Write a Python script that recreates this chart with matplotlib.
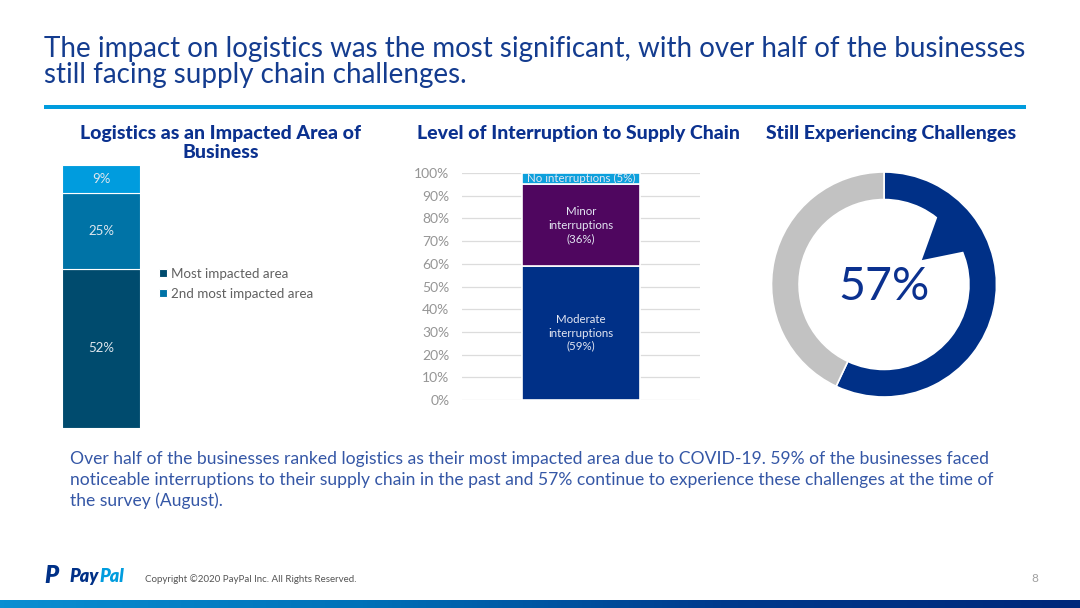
import matplotlib
matplotlib.use('Agg')
import matplotlib.pyplot as plt
import numpy as np
from matplotlib.patches import Polygon
from matplotlib.colors import LinearSegmentedColormap

# ---------------- data ----------------
left_series = ['Most impacted area', '2nd most impacted area', '3rd most impacted area']
left_values = [52, 25, 9]
left_bar_labels = ['52%', '25%', '9%']

mid_series = ['Moderate interruptions', 'Minor interruptions', 'No interruptions']
mid_values = [59, 36, 5]
mid_bar_labels = ['Moderate\ninterruptions\n(59%)', 'Minor\ninterruptions\n(36%)', 'No interruptions (5%)']
mid_ticks = [0, 10, 20, 30, 40, 50, 60, 70, 80, 90, 100]
mid_tick_labels = ['0%', '10%', '20%', '30%', '40%', '50%', '60%', '70%', '80%', '90%', '100%']

donut_values = [57, 43]
donut_label = '57%'

title_lines = ["The impact on logistics was the most significant, with over half of the businesses",
               "still facing supply chain challenges."]
left_title_lines = ["Logistics as an Impacted Area of", "Business"]
mid_title = "Level of Interruption to Supply Chain"
right_title = "Still Experiencing Challenges"
body_lines = ["Over half of the businesses ranked logistics as their most impacted area due to COVID-19. 59% of the businesses faced",
              "noticeable interruptions to their supply chain in the past and 57% continue to experience these challenges at the time of",
              "the survey (August)."]
footer_text = "Copyright \u00a92020 PayPal Inc. All Rights Reserved."
page_no = "8"

# ---------------- style ----------------
W, H = 1080, 608
NAVY = '#0b318f'
TITLE_BLUE = '#143c8f'
BODY_BLUE = '#3557a6'
LIGHT_BLUE = '#009cde'
left_colors = ['#004b6e', '#0073a6', '#009cde']
mid_colors = ['#003087', '#4f065f', '#0da0dc']
donut_colors = ['#003087', '#c2c2c2']

plt.rcParams['font.family'] = ['Lato', 'DejaVu Sans']

fig = plt.figure(figsize=(W / 100, H / 100), dpi=100)
fig.patch.set_facecolor('white')


def ax_px(x0, y0, x1, y1):
    return fig.add_axes([x0 / W, 1 - y1 / H, (x1 - x0) / W, (y1 - y0) / H])


def txt(x, y, s, **kw):
    return fig.text(x / W, 1 - y / H, s, **kw)


# title (one text per line, baselines)
for line, yb in zip(title_lines, [57, 83]):
    txt(44, yb, line, fontsize=20, color=TITLE_BLUE, ha='left', va='baseline')
# rule under the title
rule = ax_px(44, 105, 1026, 109)
rule.axis('off')
rule.add_patch(plt.Rectangle((0, 0), 1, 1, color=LIGHT_BLUE, transform=rule.transAxes))

# subtitles
sub_kw = dict(fontsize=14, fontweight='black', color=NAVY, ha='center', va='baseline')
for line, yb in zip(left_title_lines, [139, 158]):
    txt(221, yb, line, **sub_kw)
txt(578, 139, mid_title, **sub_kw)
txt(891, 139, right_title, **sub_kw)

# ---------------- left chart ----------------
axl = ax_px(62, 165, 140, 428)
bottom = 0
handles = []
for v, c, lab, name in zip(left_values, left_colors, left_bar_labels, left_series):
    b = axl.bar(0, v, bottom=bottom, width=1.0, color=c, edgecolor='white', linewidth=0.8,
                label=name)
    handles.append(b)
    axl.text(0, bottom + v / 2, lab, ha='center', va='center', fontsize=9.5, color='#dfe7ee')
    bottom += v
axl.set_xlim(-0.5, 0.5)
axl.set_ylim(0, sum(left_values))
axl.axis('off')
leg = fig.legend(handles=handles[:2], labels=left_series[:2], loc='upper left',
                 bbox_to_anchor=(152 / W, 1 - 261 / H), frameon=False, fontsize=9.6,
                 handlelength=0.6, handleheight=0.6, handletextpad=0.35, labelspacing=0.6,
                 borderpad=0, labelcolor='#606060')

# ---------------- middle chart ----------------
axm = ax_px(462, 173, 700, 400)
bottom = 0
for v, c, lab in zip(mid_values, mid_colors, mid_bar_labels):
    axm.bar(0, v, bottom=bottom, width=0.496, color=c, edgecolor='white', linewidth=1.2,
            zorder=3)
    axm.text(0, bottom + v / 2, lab, ha='center', va='center', fontsize=8.3,
             color='#e3e6f2', linespacing=1.25, zorder=4)
    bottom += v
axm.set_xlim(-0.5, 0.5)
axm.set_ylim(0, 100)
axm.set_yticks(mid_ticks)
axm.set_yticklabels(mid_tick_labels)
axm.set_xticks([])
axm.tick_params(axis='y', length=0, pad=9, labelsize=10, labelcolor='#959595')
for s in axm.spines.values():
    s.set_visible(False)
axm.grid(axis='y', color='#dcdcdc', linewidth=0.9, zorder=0)
axm.set_axisbelow(True)

# ---------------- donut ----------------
cx, cy, R = 884, 284.5, 112.5
half = 125
axd = ax_px(cx - half, cy - half, cx + half, cy + half)
axd.pie(donut_values, colors=donut_colors, startangle=90, counterclock=False,
        radius=1.0, wedgeprops=dict(width=0.245, edgecolor='white', linewidth=1.2))
lim = half / R
axd.set_xlim(-lim, lim)
axd.set_ylim(-lim, lim)
axd.set_aspect('equal')
# notch visible in the reference ring
pts_polar = [(0.80, 52.5), (0.40, 32.8), (0.80, 22.0)]
poly = [(r * np.cos(np.radians(a)), r * np.sin(np.radians(a))) for r, a in pts_polar]
axd.add_patch(Polygon(poly, closed=True, color=donut_colors[0], lw=0))
axd.text(0, -0.02, donut_label, ha='center', va='center', fontsize=33.5, fontweight='normal',
         color=NAVY)

# ---------------- body text ----------------
for line, yb in zip(body_lines, [464, 485, 506]):
    txt(70, yb, line, fontsize=12.6, color=BODY_BLUE, ha='left', va='baseline')

# ---------------- footer ----------------
txt(44, 583, 'P', fontsize=17, fontweight='heavy', fontstyle='italic', color='#003087',
    ha='left', va='baseline')
txt(69, 582, 'Pay', fontsize=13, fontweight='heavy', fontstyle='italic', color='#003087',
    ha='left', va='baseline')
txt(99, 582, 'Pal', fontsize=13, fontweight='heavy', fontstyle='italic', color=LIGHT_BLUE,
    ha='left', va='baseline')
txt(145, 582, footer_text, fontsize=7, color='#555555', ha='left', va='baseline',
    fontstretch='condensed')
txt(1035, 582, page_no, fontsize=8.5, color='#a0a0a0', ha='center', va='baseline')

# gradient bar at bottom
axg = ax_px(0, 600, 1080, 608)
axg.axis('off')
cmap = LinearSegmentedColormap.from_list('pp', ['#0a8fd2', '#0071b8', '#003a8c', '#00277a'])
axg.imshow(np.linspace(0, 1, 256)[None, :], aspect='auto', cmap=cmap,
           extent=(0, 1, 0, 1))
axg.set_xlim(0, 1)
axg.set_ylim(0, 1)

fig.savefig('out.png', dpi=100, facecolor='white')
